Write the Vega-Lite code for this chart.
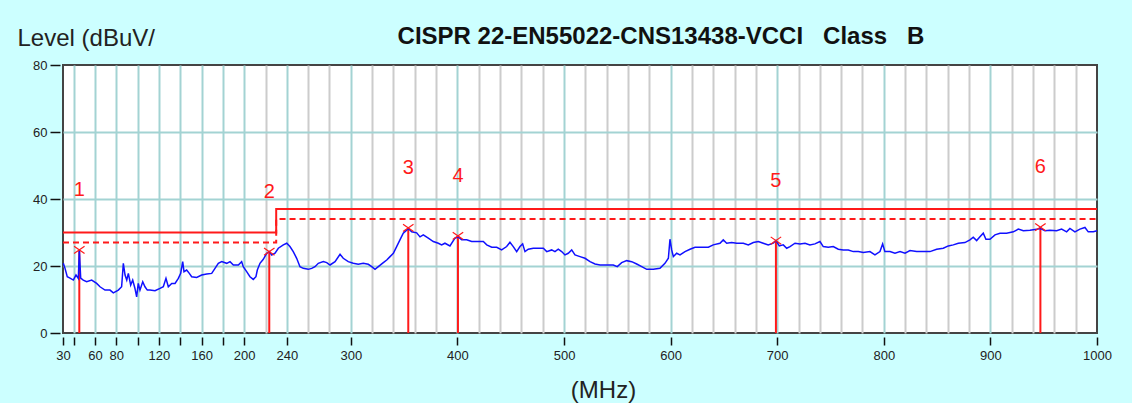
{
  "$schema": "https://vega.github.io/schema/vega-lite/v6.json",
  "autosize": "none",
  "width": 1034,
  "height": 268,
  "padding": {"left": 63, "top": 65, "right": 35, "bottom": 70},
  "background": "#ccffff",
  "title": {
    "text": "CISPR 22-EN55022-CNS13438-VCCI\u00a0\u00a0 Class\u00a0\u00a0 B",
    "anchor": "middle",
    "frame": "group",
    "baseline": "alphabetic",
    "offset": 18,
    "dx": 81,
    "dy": 60,
    "font": "Liberation Sans",
    "fontSize": 24,
    "fontWeight": "bold",
    "color": "#111"
  },
  "config": {
    "view": {"fill": "white", "stroke": "#444", "strokeWidth": 2},
    "axis": {"labelFont": "Liberation Sans", "titleFont": "Liberation Sans", "labelColor": "#222", "titleColor": "#222", "tickColor": "#111", "domain": false}
  },
  "datasets": {
    "trace": [
      {"f":30.3,"L":20.8},{"f":31.9,"L":19.3},{"f":34,"L":16.8},{"f":36.6,"L":16.4},{"f":39.7,"L":15.8},{"f":42.2,"L":17.3},{"f":44.4,"L":16.3},{"f":45.3,"L":24.8},{"f":46.6,"L":16.4},{"f":49,"L":15.8},{"f":52.2,"L":15.3},{"f":56.9,"L":15.8},{"f":61.6,"L":14.8},{"f":64.7,"L":13.8},{"f":69.4,"L":12.8},{"f":74.1,"L":12.8},{"f":77.2,"L":12},{"f":81.9,"L":12.8},{"f":85,"L":13.8},{"f":86.6,"L":20.8},{"f":88.2,"L":17.3},{"f":89.8,"L":15.8},{"f":91.3,"L":17.8},{"f":93.5,"L":14.3},{"f":95.4,"L":15.8},{"f":97.5,"L":13.3},{"f":99.1,"L":10.8},{"f":100.6,"L":14.8},{"f":102.2,"L":12.8},{"f":104.8,"L":15.3},{"f":106.9,"L":13.8},{"f":109.1,"L":12.8},{"f":111.6,"L":12.8},{"f":116.3,"L":12.6},{"f":121,"L":13.3},{"f":124.1,"L":13.8},{"f":126.6,"L":16.3},{"f":128.8,"L":13.8},{"f":132,"L":14.8},{"f":135.1,"L":14.8},{"f":138.2,"L":16.3},{"f":140.4,"L":17.8},{"f":142.3,"L":21.3},{"f":143.5,"L":18.3},{"f":146,"L":18.8},{"f":148.5,"L":17.8},{"f":150.7,"L":16.8},{"f":155.4,"L":16.6},{"f":160.1,"L":17.3},{"f":164.8,"L":17.6},{"f":169.5,"L":17.8},{"f":172.6,"L":19.3},{"f":175.7,"L":20.8},{"f":178.9,"L":21.3},{"f":183.6,"L":20.8},{"f":186.7,"L":21.3},{"f":189.8,"L":20.3},{"f":194.5,"L":20.3},{"f":197.6,"L":21.3},{"f":199.1,"L":19.8},{"f":202.3,"L":18.3},{"f":205.4,"L":16.8},{"f":208.5,"L":16},{"f":211,"L":16.8},{"f":212.3,"L":18.8},{"f":214.8,"L":20.8},{"f":217.9,"L":22},{"f":221.1,"L":23.8},{"f":223.5,"L":24.3},{"f":225.8,"L":23.3},{"f":228.9,"L":23.8},{"f":232,"L":25.3},{"f":236.7,"L":26.3},{"f":239.9,"L":26.8},{"f":242.9,"L":25.8},{"f":246,"L":24.3},{"f":249.2,"L":22.3},{"f":252.3,"L":19.8},{"f":255.4,"L":19.3},{"f":260.1,"L":19},{"f":263.3,"L":19.3},{"f":266.4,"L":19.8},{"f":269.5,"L":20.8},{"f":274.2,"L":21.3},{"f":277.4,"L":21},{"f":280.5,"L":20.3},{"f":285.2,"L":21.3},{"f":289.9,"L":23.5},{"f":292.9,"L":22.3},{"f":297.6,"L":21.3},{"f":302.3,"L":20.8},{"f":307,"L":20.5},{"f":311.7,"L":20.8},{"f":316.4,"L":20.5},{"f":319.6,"L":19.8},{"f":322.7,"L":19},{"f":325.8,"L":19.8},{"f":330.5,"L":21},{"f":333.7,"L":21.8},{"f":336.8,"L":22.8},{"f":339.9,"L":23.8},{"f":343,"L":25.8},{"f":346.1,"L":27.8},{"f":349.2,"L":29.8},{"f":352.4,"L":30.7},{"f":353.9,"L":31.2},{"f":357.1,"L":30.2},{"f":361.8,"L":29.9},{"f":364.9,"L":28.7},{"f":368,"L":29.3},{"f":372.7,"L":28.3},{"f":377.4,"L":27.3},{"f":382.1,"L":26.8},{"f":385.2,"L":26.3},{"f":388.3,"L":26.8},{"f":393,"L":26},{"f":397.7,"L":28.3},{"f":400.8,"L":28.7},{"f":404,"L":27.8},{"f":408.7,"L":27.8},{"f":413.4,"L":27.3},{"f":418.1,"L":27.3},{"f":424.3,"L":27.3},{"f":427.5,"L":26.3},{"f":432.2,"L":25.6},{"f":436.9,"L":25.6},{"f":441.5,"L":24.8},{"f":446.2,"L":25.8},{"f":449.3,"L":27.1},{"f":452.4,"L":25.8},{"f":455.6,"L":24.3},{"f":458.7,"L":25.8},{"f":461.2,"L":26.6},{"f":463.4,"L":24.3},{"f":466.5,"L":25},{"f":471.2,"L":25.3},{"f":475.9,"L":25.3},{"f":480.6,"L":25.3},{"f":483.8,"L":24.3},{"f":488.4,"L":24.8},{"f":491.5,"L":24.3},{"f":494.6,"L":25},{"f":497.8,"L":24.3},{"f":500.9,"L":23.3},{"f":504,"L":23.8},{"f":507.2,"L":24.8},{"f":510.3,"L":23.3},{"f":515,"L":22.8},{"f":519.7,"L":22.3},{"f":524.4,"L":21.3},{"f":529.1,"L":20.6},{"f":533.8,"L":20.3},{"f":540,"L":20.3},{"f":546.2,"L":20.3},{"f":550,"L":19.8},{"f":554.1,"L":21},{"f":558.8,"L":21.6},{"f":563.5,"L":21.3},{"f":568.2,"L":20.6},{"f":572.9,"L":19.8},{"f":577.6,"L":19},{"f":583.8,"L":19},{"f":590,"L":19.3},{"f":594.7,"L":20.8},{"f":597.9,"L":22.3},{"f":599.4,"L":28},{"f":601,"L":24.8},{"f":602.6,"L":22.8},{"f":605.7,"L":23.8},{"f":608.8,"L":23.3},{"f":613.5,"L":24.3},{"f":618.2,"L":25},{"f":622.9,"L":25.6},{"f":629.1,"L":25.6},{"f":635.4,"L":25.6},{"f":640,"L":26.3},{"f":646.3,"L":26.8},{"f":649.4,"L":27.8},{"f":652.6,"L":26.8},{"f":657.3,"L":27},{"f":662,"L":26.8},{"f":668.2,"L":26.8},{"f":672.9,"L":26.3},{"f":677.6,"L":27},{"f":682.3,"L":27.3},{"f":686.9,"L":26.8},{"f":691.6,"L":26.3},{"f":696.3,"L":26.8},{"f":698.8,"L":27.6},{"f":702,"L":26},{"f":705.7,"L":26.3},{"f":708.9,"L":25.3},{"f":712,"L":25.8},{"f":716.7,"L":26.8},{"f":721.4,"L":26.6},{"f":726.1,"L":26.8},{"f":730.7,"L":26.3},{"f":735.4,"L":26.6},{"f":740.1,"L":27.3},{"f":743.2,"L":25.8},{"f":747.9,"L":25.6},{"f":752.6,"L":25.8},{"f":757.3,"L":25},{"f":762,"L":24.8},{"f":766.7,"L":24.8},{"f":771.4,"L":24.3},{"f":776.1,"L":24.3},{"f":780.8,"L":24},{"f":787,"L":24.3},{"f":791.7,"L":23.3},{"f":796.4,"L":24.3},{"f":798.9,"L":26.6},{"f":801,"L":24.3},{"f":805.8,"L":24.3},{"f":810.5,"L":23.8},{"f":815.2,"L":24.3},{"f":819.9,"L":23.8},{"f":824.6,"L":24.6},{"f":830.8,"L":24.3},{"f":837.1,"L":24.3},{"f":843.3,"L":24.3},{"f":849.6,"L":25},{"f":855.8,"L":25.3},{"f":860.5,"L":26},{"f":865.2,"L":26.3},{"f":869.9,"L":26.8},{"f":876.1,"L":27},{"f":880.8,"L":27.8},{"f":883.9,"L":28.6},{"f":887.1,"L":27.6},{"f":890.2,"L":28.7},{"f":893.3,"L":29.8},{"f":895.8,"L":28},{"f":899.6,"L":28},{"f":904.3,"L":29.3},{"f":909,"L":29.8},{"f":915.2,"L":29.8},{"f":921.5,"L":30.2},{"f":926.2,"L":31},{"f":930.9,"L":30.5},{"f":937.1,"L":30.7},{"f":943.4,"L":31},{"f":947.1,"L":31.2},{"f":951.2,"L":30.5},{"f":955.9,"L":30.7},{"f":962.1,"L":30.5},{"f":966.8,"L":31},{"f":971.5,"L":30.2},{"f":974.6,"L":31.2},{"f":979.3,"L":30.2},{"f":984,"L":31},{"f":988.7,"L":31.5},{"f":991.8,"L":30.2},{"f":996.5,"L":30.2},{"f":1000,"L":30.5}
    ],
    "limits": [
      {"f":30,"L":30,"kind":"limit","ord":1},{"f":230,"L":30,"kind":"limit","ord":2},{"f":230,"L":37,"kind":"limit","ord":3},{"f":1000,"L":37,"kind":"limit","ord":4},
      {"f":30,"L":27,"kind":"margin","ord":1},{"f":230,"L":27,"kind":"margin","ord":2},{"f":230,"L":34,"kind":"margin","ord":3},{"f":1000,"L":34,"kind":"margin","ord":4}
    ],
    "markers": [
      {"id":"1","f":45.3,"L":24.8},{"id":"2","f":223.5,"L":24.3},{"id":"3","f":353.9,"L":31.4},{"id":"4","f":400.5,"L":29},{"id":"5","f":698.8,"L":27.6},{"id":"6","f":946.9,"L":31.6}
    ]
  },
  "resolve": {"axis": {"x": "independent"}},
  "layer": [
    {
      "data": {"name": "limits"},
      "mark": {"type": "line", "color": "#ff1a1a", "strokeWidth": 2},
      "encoding": {
        "x": {"field": "f", "type": "quantitative", "scale": {"domain": [30, 1000], "nice": false, "zero": false},
          "axis": {"orient": "bottom", "values": [220,260,280,320,340,360,380,420,440,460,480,520,540,560,580,620,640,660,680,720,740,760,780,820,840,860,880,920,940,960,980],
            "grid": true, "gridColor": "#cccccc", "gridWidth": 2, "ticks": false, "labels": false, "title": null}},
        "y": {"field": "L", "type": "quantitative", "scale": {"domain": [0, 80], "nice": false},
          "axis": {"values": [0,20,40,60,80], "grid": true, "gridColor": {"condition": {"test": "datum.value == 0 || datum.value == 80", "value": "transparent"}, "value": "#a3d3d3"}, "gridWidth": 2,
            "tickSize": 10, "offset": 3, "tickWidth": 1.5, "labelPadding": 3, "labelFontSize": 13,
            "title": "Level (dBuV/", "titleAngle": 0, "titleAlign": "left", "titleBaseline": "alphabetic", "titleX": -43, "titleY": -20, "titleFontSize": 24, "titleFontWeight": "normal"}},
        "detail": {"field": "kind"},
        "order": {"field": "ord"},
        "strokeDash": {"field": "kind", "type": "nominal", "scale": {"domain": ["limit", "margin"], "range": [[1, 0], [6, 4]]}, "legend": null}
      }
    },
    {
      "data": {"name": "markers"},
      "mark": {"type": "rule", "color": "#ff1a1a", "strokeWidth": 2},
      "encoding": {
        "x": {"field": "f", "type": "quantitative", "axis": null},
        "y": {"field": "L", "type": "quantitative"},
        "y2": {"datum": 0}
      }
    },
    {
      "data": {"name": "trace"},
      "mark": {"type": "line", "color": "#1010ff", "strokeWidth": 1.5},
      "encoding": {
        "x": {"field": "f", "type": "quantitative",
          "axis": {"orient": "bottom", "values": [30,40,60,80,100,120,140,160,180,200,240,300,400,500,600,700,800,900,1000], "format": "d",
            "labelExpr": "indexof([40,100,140,180], datum.value) >= 0 ? '' : datum.label",
            "grid": true, "gridColor": {"condition": {"test": "datum.value == 30 || datum.value == 1000", "value": "transparent"}, "value": "#a3d3d3"}, "gridWidth": 2,
            "offset": 4, "tickSize": 8, "tickWidth": 1.5, "labelPadding": 4, "labelFontSize": 13, "labelFlush": false,
            "title": "(MHz)", "titleFontSize": 24, "titleFontWeight": "normal", "titleX": 540, "titleY": 60, "titleAlign": "center", "titleBaseline": "alphabetic"}},
        "y": {"field": "L", "type": "quantitative"}
      }
    },
    {
      "data": {"name": "markers"},
      "mark": {"type": "point", "shape": "M -1 -0.7 L 1 0.7 M -1 0.7 L 1 -0.7", "filled": false, "color": "#ff1a1a", "size": 110, "strokeWidth": 1.2, "opacity": 1},
      "encoding": {
        "x": {"field": "f", "type": "quantitative", "axis": null},
        "y": {"field": "L", "type": "quantitative"}
      }
    },
    {
      "data": {"name": "markers"},
      "mark": {"type": "text", "color": "#ff1a1a", "font": "Liberation Sans", "fontSize": 20, "dy": -60, "align": "center", "baseline": "middle"},
      "encoding": {
        "x": {"field": "f", "type": "quantitative", "axis": null},
        "y": {"field": "L", "type": "quantitative"},
        "text": {"field": "id"}
      }
    }
  ]
}
